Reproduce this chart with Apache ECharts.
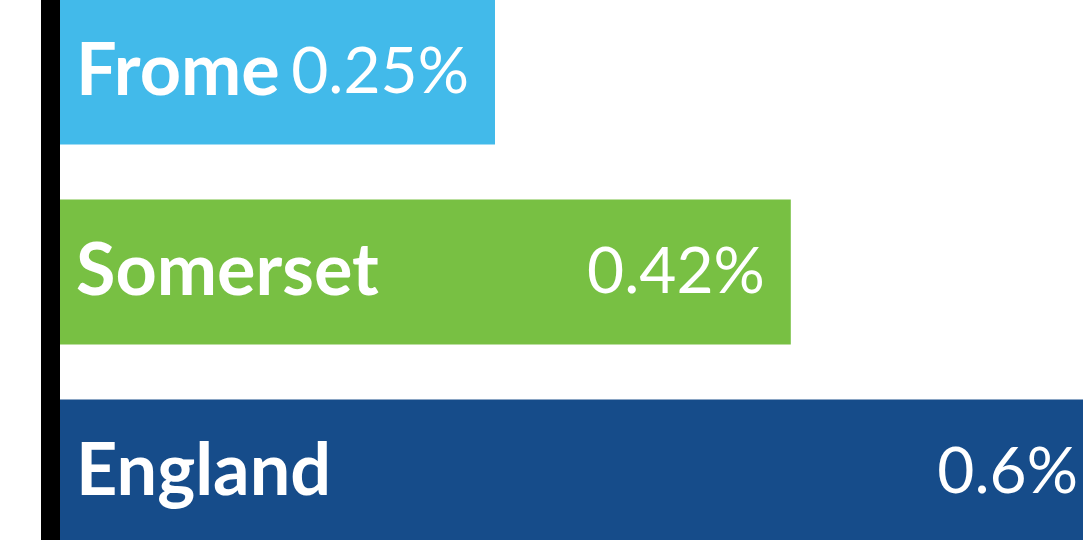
<!DOCTYPE html>
<html>
<head>
<meta charset="utf-8">
<script src="https://cdn.jsdelivr.net/npm/echarts@6/dist/echarts.min.js"></script>
<style>
	html,body{margin:0;padding:0;background:#fff;}
	#chart{width:1083px;height:540px;}
</style>
</head>
<body>
<div id="chart"></div>
<script>
var places = ['Frome', 'Somerset', 'England'];
var rates = [0.25, 0.42, 0.6];
var colours = ['#42baea', '#78c043', '#164c8a'];

var chart = echarts.init(document.getElementById('chart'));

var bars = rates.map(function(v, i){
	return { value: v, itemStyle: { color: colours[i] } };
});

var option = {
	animation: false,
	grid: { left: 60, width: 1044, top: -28, height: 600, outerBoundsMode: 'none', containLabel: false },
	xAxis: {
		type: 'value',
		min: 0,
		max: 0.6,
		show: false
	},
	yAxis: {
		type: 'category',
		data: places,
		inverse: true,
		offset: 9.5,
		axisLine: { show: true, onZero: false, lineStyle: { color: '#000', width: 19 } },
		axisTick: { show: false },
		axisLabel: { show: false }
	},
	series: [
		{
			// bar + place name on the left
			type: 'bar',
			data: bars,
			barWidth: 145,
			clip: false,
			label: {
				show: true,
				position: 'insideLeft',
				distance: 16,
				formatter: '{b}',
				color: '#fff',
				fontFamily: 'Lato',
				fontWeight: 'bold',
				fontSize: 72
			}
		},
		{
			// value labels on the right
			type: 'bar',
			data: rates,
			barWidth: 145,
			barGap: '-100%',
			clip: false,
			itemStyle: { color: 'rgba(0,0,0,0)' },
			label: {
				show: true,
				position: 'insideRight',
				distance: 26,
				formatter: function(p){ return p.value + '%'; },
				color: '#fff',
				fontFamily: 'Lato',
				fontWeight: 'normal',
				fontSize: 64
			}
		}
	]
};
chart.setOption(option);
</script>
</body>
</html>
